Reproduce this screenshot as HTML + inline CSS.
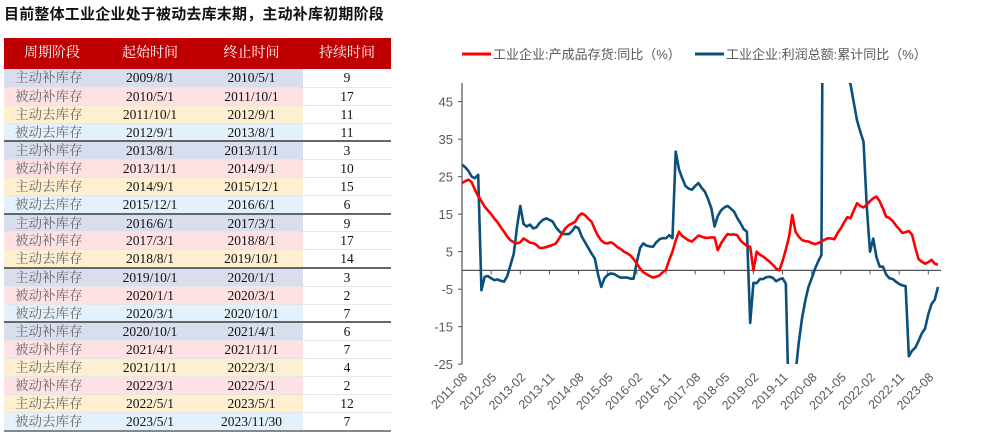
<!DOCTYPE html>
<html><head><meta charset="utf-8">
<style>
body{margin:0;width:1000px;height:436px;background:#fff;overflow:hidden;position:relative;font-family:"Liberation Serif","Noto Serif CJK SC",serif}
#title{position:absolute;left:4px;top:3px;font:bold 15px "Liberation Sans","Noto Sans CJK SC",sans-serif;color:#111;letter-spacing:0.2px}
#tbl{position:absolute;left:4px;top:38px;width:387px;border-collapse:collapse;table-layout:fixed}
#tbl th{background:#c00000;color:#fff;font-weight:normal;font-size:14px;height:31px;padding:0;line-height:16px;font-family:"Liberation Serif","Noto Serif CJK SC",serif}
#tbl tr.r{height:18.1px}
#tbl td{height:17px;padding:0;text-align:center;font-size:13.5px;line-height:15px;color:#111;border-bottom:1px solid #e6e6e6;overflow:hidden;white-space:nowrap;box-sizing:border-box}
#tbl td.s{color:#666;text-align:left;padding-left:11px}
#tbl td.d{background:#fff}
#tbl tr.sep td{border-top:2px solid #666}
#tbl tr.last td{border-bottom:2px solid #888}
.a td.c{background:#d9deef}.b td.c{background:#fde1e3}.y td.c{background:#fdefd0}.l td.c{background:#e2f1fb}
</style></head><body>
<div id="title">目前整体工业企业处于被动去库末期，主动补库初期阶段</div>
<table id="tbl">
<colgroup><col style="width:96px"><col style="width:100px"><col style="width:103px"><col style="width:88px"></colgroup>
<tr><th>周期阶段</th><th>起始时间</th><th>终止时间</th><th>持续时间</th></tr>
<tbody id="tb"></tbody>
</table>
<svg id="chart" width="1000" height="436" style="position:absolute;left:0;top:0"></svg>
<script>
const stages=["主动补库存","被动补库存","主动去库存","被动去库存","主动补库存","被动补库存","主动去库存","被动去库存","主动补库存","被动补库存","主动去库存","主动补库存","被动补库存","被动去库存","主动补库存","被动补库存","主动去库存","被动补库存","主动去库存","被动去库存"];
const starts=["2009/8/1","2010/5/1","2011/10/1","2012/9/1","2013/8/1","2013/11/1","2014/9/1","2015/12/1","2016/6/1","2017/3/1","2018/8/1","2019/10/1","2020/1/1","2020/3/1","2020/10/1","2021/4/1","2021/11/1","2022/3/1","2022/5/1","2023/5/1"];
const ends=["2010/5/1","2011/10/1","2012/9/1","2013/8/1","2013/11/1","2014/9/1","2015/12/1","2016/6/1","2017/3/1","2018/8/1","2019/10/1","2020/1/1","2020/3/1","2020/10/1","2021/4/1","2021/11/1","2022/3/1","2022/5/1","2023/5/1","2023/11/30"];
const durations=[9,17,11,11,3,10,15,6,9,17,14,3,2,7,6,7,4,2,12,7];
const sepRows=[4,8,11,14];
const tb=document.getElementById('tb');
const clsOf={"主动补库存":"a","被动补库存":"b","主动去库存":"y","被动去库存":"l"};
stages.forEach((s,i)=>{
  const tr=document.createElement('tr');
  tr.className='r '+clsOf[s]+(sepRows.includes(i)?' sep':'')+(i===stages.length-1?' last':'');
  
  
  tr.innerHTML='<td class="c s">'+s+'</td><td class="c">'+starts[i]+'</td><td class="c">'+ends[i]+'</td><td class="d">'+durations[i]+'</td>';
  tb.appendChild(tr);
});

const xLabels=["2011-08","2012-05","2013-02","2013-11","2014-08","2015-05","2016-02","2016-11","2017-08","2018-05","2019-02","2019-11","2020-08","2021-05","2022-02","2022-11","2023-08"];
const yTicks=[45,35,25,15,5,-5,-15,-25];
const inventoryYoY=[23.3,23.8,24.2,23.5,21.5,19.8,18.5,17,16,15,13.8,12.8,11.5,10.3,9,8,7.5,7.2,7.5,8.5,8,7.4,7.3,6.8,6,6,6.2,6.5,6.8,7.2,8.5,10,11.3,12.1,12.5,13,14.5,15.2,14.7,13.8,13,11,9.2,8,7.3,7.2,7.5,7,6.2,5.7,5,4.6,4,3,1.8,0.5,-0.5,-1,-1.5,-1.9,-1.7,-1.3,-0.5,0.2,2.8,5,8,10.3,9.2,8.6,8,7.7,8.5,9.3,9,8.7,8.7,8.8,8.8,5.4,7.2,8.5,9.7,9.5,9.6,9.4,8,7.2,6.5,6.3,0,5,4.2,3.7,3,2.3,1.5,0.5,0,2.5,5.5,9,14.8,10.3,9,8.1,7.8,7.7,7.3,7,7.3,7.7,8.2,8.6,8.5,8.3,10,11.2,12.8,14.2,13.9,16,17.9,17.2,16.8,17.5,18.5,19.2,19.7,18.4,16.5,14.3,14,13.2,12,11,10,10.2,10.5,9.5,6,3,2.3,1.8,2.2,2.8,1.8,1.5];
const profitYoY=[28.2,27.5,26.5,25,24.6,25.5,-5.3,-1.7,-1.5,-2.1,-2.6,-2.4,-2.8,-3,-1.5,1.5,4.5,11.7,17.2,12.4,11.7,12.2,11.2,11.5,12.7,13.5,13.9,13.5,13,11.5,10.5,9.7,9.7,9.7,10.5,11.7,11.2,9,7.5,6,4.5,3.2,-1,-4.4,-2.1,-1.2,-0.8,-1,-1.5,-1.9,-1.9,-1.9,-2.2,-2.2,2.3,6,7.2,6.6,6.4,6.3,7.5,8.3,8.6,8.6,9.4,8.6,31.7,27,24.6,22.5,21.8,21.5,22.5,23.3,22,21,19,16.6,11.7,14.5,16,16.8,17.2,16.5,15.7,14,12.6,11,10.3,-14,-3.3,-3.4,-2.3,-2.3,-1.8,-1.7,-2,-2.9,-2.4,-2.1,-3.5,-38.3,-36.7,-27.4,-19.3,-12.8,-8.1,-4.4,-2.1,0.4,2.4,4.1,178.9,137.3,120,106,83.4,66.9,57.3,52,49.5,44.7,40,37,34.3,17,5,8.5,3.5,1,1,-1.1,-2.1,-2.3,-3,-3.6,-4,-4.2,-22.9,-21.4,-20.6,-18.8,-16.8,-15.5,-11.7,-9,-7.8,-4.4];

const NS='http://www.w3.org/2000/svg';
const svg=document.getElementById('chart');
const X0=462,X1=938,Y0=270.4,PU=3.75,TOP=83,BOT=364;
const N=inventoryYoY.length;
const xs=i=>X0+i*(X1-X0)/(N-1);
const ys=v=>Y0-v*PU;
function mk(tag,attrs){const e=document.createElementNS(NS,tag);for(const k in attrs)e.setAttribute(k,attrs[k]);svg.appendChild(e);return e;}

const defs=mk('defs',{});
const cp=document.createElementNS(NS,'clipPath');cp.setAttribute('id','pc');
const cr=document.createElementNS(NS,'rect');cr.setAttribute('x',X0);cr.setAttribute('y',TOP);cr.setAttribute('width',X1-X0+5);cr.setAttribute('height',BOT-TOP);
cp.appendChild(cr);defs.appendChild(cp);

const ya=mk('line',{x1:X0,y1:TOP,x2:X0,y2:BOT,stroke:'#555','stroke-width':1.2});


yTicks.forEach(v=>{
  const t=mk('line',{x1:X0-4,y1:ys(v),x2:X0,y2:ys(v),stroke:'#555','stroke-width':1});
  
  
  const l=mk('text',{x:X0-9,y:ys(v)+5,'text-anchor':'end','font-size':13,fill:'#595959','font-family':'Liberation Sans, sans-serif'});
  l.textContent=v;
  
  
});
const zl=mk('line',{x1:X0,y1:ys(0),x2:X1+3,y2:ys(0),stroke:'#555','stroke-width':1.2});


xLabels.forEach((lab,k)=>{
  const x=xs(k*9);
  const t=mk('line',{x1:x,y1:ys(0),x2:x,y2:ys(0)+4,stroke:'#555','stroke-width':1});
  
  
  const tx=mk('text',{x:0,y:0,'text-anchor':'end','font-size':12.5,fill:'#595959','font-family':'Liberation Sans, sans-serif',transform:'translate('+(x+6)+',378) rotate(-45)'});
  tx.textContent=lab;
  
  
});
function series(vals,color,name){
  const d=vals.map((v,i)=>(i?'L':'M')+xs(i).toFixed(2)+' '+ys(v).toFixed(2)).join(' ');
  const p=mk('path',{d:d,fill:'none',stroke:color,'stroke-width':2.6,'stroke-linejoin':'round','clip-path':'url(#pc)'});
  
  
}
series(profitYoY,'#0b4f7c','profit-cumulative-yoy-line');
series(inventoryYoY,'#ff0000','finished-goods-inventory-yoy-line');

const lg1=mk('line',{x1:462,y1:54,x2:491,y2:54,stroke:'#ff0000','stroke-width':3});


const lt1=mk('text',{x:493,y:59,'font-size':13,fill:'#595959','font-family':'Liberation Sans, Noto Sans CJK SC, sans-serif'});
lt1.textContent='工业企业:产成品存货:同比（%）';


const lg2=mk('line',{x1:695,y1:54,x2:724,y2:54,stroke:'#0b4f7c','stroke-width':3});


const lt2=mk('text',{x:726,y:59,'font-size':13,fill:'#595959','font-family':'Liberation Sans, Noto Sans CJK SC, sans-serif'});
lt2.textContent='工业企业:利润总额:累计同比（%）';


</script>
</body></html>
